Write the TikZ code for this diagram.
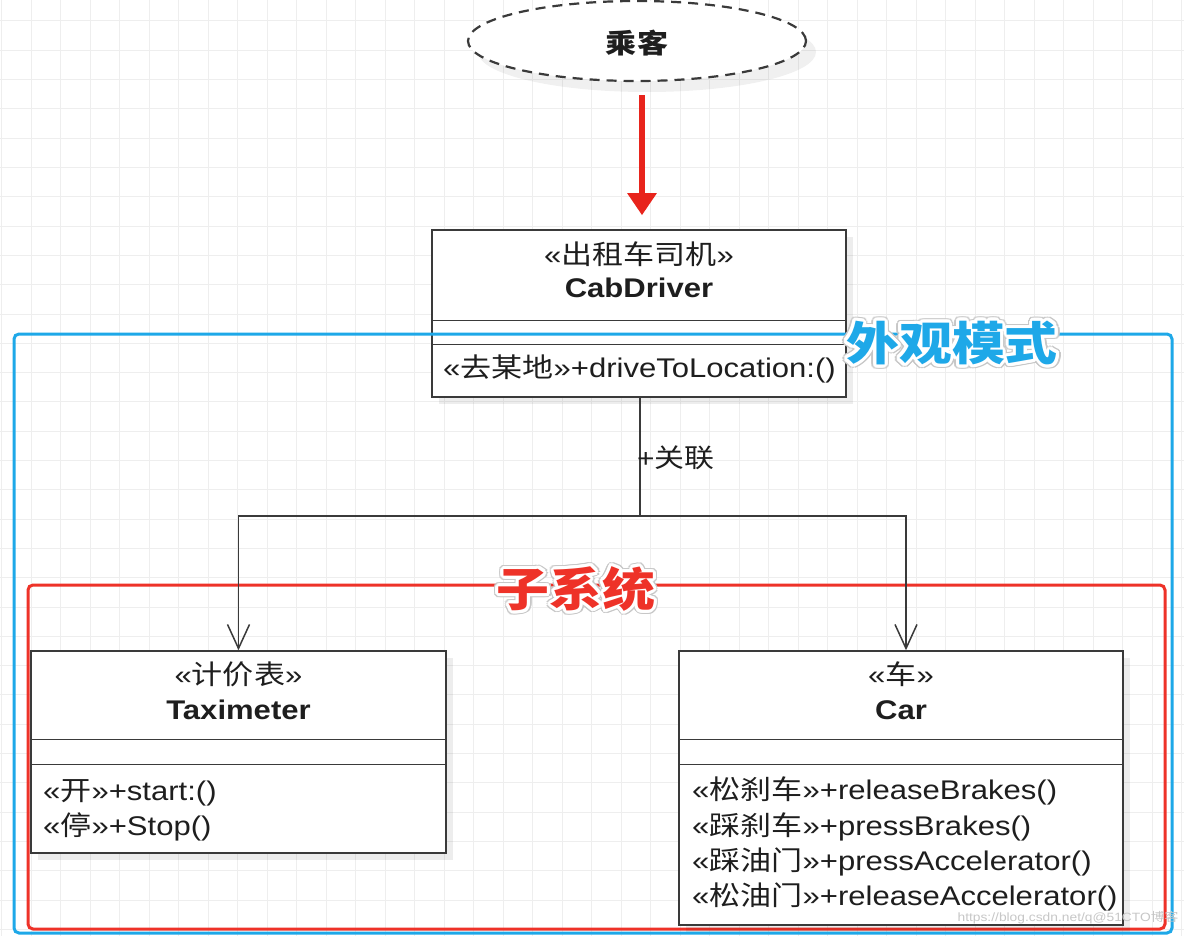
\documentclass[tikz,border=0pt]{standalone}
\usepackage{fontspec}
\setmainfont{Liberation Sans}[FakeStretch=1.15]
\newfontfamily\cjk{Noto Sans CJK SC}[FakeStretch=1.15]
\usetikzlibrary{arrows.meta,shapes.geometric,shadows}
\definecolor{gridc}{HTML}{EEEEEE}
\definecolor{bluec}{HTML}{1EA8E8}
\definecolor{redc}{HTML}{EE3228}
\definecolor{arrowred}{HTML}{E8241C}
\definecolor{linec}{HTML}{3A3A3A}
\definecolor{textc}{HTML}{1E1E1E}
\tikzset{
  classbox/.style={draw=linec, line width=1.5pt, fill=white, inner sep=0pt,
    drop shadow={shadow xshift=7pt, shadow yshift=-7pt, fill=black, opacity=0.07}},
  txt/.style={text=textc, inner sep=0pt, text height=20pt, text depth=6pt,
    font=\fontsize{27}{32}\selectfont},
  divider/.style={draw=linec, line width=1.5pt},
  conn/.style={draw=linec, line width=1.5pt},
  opentip/.style={-{Straight Barb[length=24pt,width=22pt]}},
  frame/.style={line width=3pt, rounded corners=5pt, inner sep=0pt},
  titlefont/.style={inner sep=0pt, font=\fontsize{46}{50}\selectfont\cjk\bfseries}
}
\begin{document}
\begin{tikzpicture}[x=1pt,y=-1pt]
\useasboundingbox (0,0) rectangle (1184,936);
\fill[white] (0,0) rectangle (1184,936);
% background grid
\foreach \k in {-1,...,39} \draw[gridc, line width=1pt] ({31+29.5*\k},0) -- ({31+29.5*\k},936);
\foreach \k in {-1,...,31} \draw[gridc, line width=1pt] (0,{21+29.3*\k}) -- (1184,{21+29.3*\k});

% passenger ellipse
\node[ellipse, minimum width=338pt, minimum height=80pt, fill=black, opacity=0.06] (pshadow) at (647,52) {};
\node[ellipse, draw=linec, dash pattern=on 10pt off 7pt, line width=2.2pt,
      minimum width=338pt, minimum height=80pt, fill=white] (passenger) at (637,41) {};
\node[text=textc, inner sep=0pt, font=\fontsize{27}{30}\selectfont\cjk\bfseries] (ptext) at (637,43) {乘客};

% CabDriver class
\node[classbox, minimum width=414pt, minimum height=167pt] (cab) at (639,313.5) {};
\draw[divider] ([yshift=-91pt]cab.north west) -- ([yshift=-91pt]cab.north east);
\draw[divider] ([yshift=-115pt]cab.north west) -- ([yshift=-115pt]cab.north east);
\node[txt] (cabst) at (639,258) {«{\cjk 出租车司机}»};
\node[txt, font=\fontsize{27}{32}\selectfont\bfseries] (cabname) at (639,291) {CabDriver};
\node[txt, anchor=west] (cabm) at (443,370) {«{\cjk 去某地}»+driveToLocation:()};

% red arrow
\draw[arrowred, line width=6pt, -{Triangle[length=22pt,width=28pt]}, shorten <=13pt, shorten >=14pt]
  ([xshift=5pt]passenger.south) -- ([xshift=3pt]cab.north);

% facade frame (blue)
\node[frame, draw=bluec, minimum width=1158pt, minimum height=599pt] (facade) at (593,633.5) {};
% subsystem frame (red)
\node[frame, draw=redc, minimum width=1137pt, minimum height=344pt] (subsys) at (596.5,757) {};

% Taximeter class
\node[classbox, minimum width=415pt, minimum height=202pt] (tax) at (238.5,752) {};
\draw[divider] ([yshift=-89pt]tax.north west) -- ([yshift=-89pt]tax.north east);
\draw[divider] ([yshift=-114pt]tax.north west) -- ([yshift=-114pt]tax.north east);
\node[txt] (taxst) at (238.5,677) {«{\cjk 计价表}»};
\node[txt, font=\fontsize{27}{32}\selectfont\bfseries] (taxname) at (238.5,712) {Taximeter};
\node[txt, anchor=west] (taxm1) at (43,793) {«{\cjk 开}»+start:()};
\node[txt, anchor=west] (taxm2) at (43,828) {«{\cjk 停}»+Stop()};

% Car class
\node[classbox, minimum width=444pt, minimum height=274pt] (car) at (901,788) {};
\draw[divider] ([yshift=-89pt]car.north west) -- ([yshift=-89pt]car.north east);
\draw[divider] ([yshift=-114pt]car.north west) -- ([yshift=-114pt]car.north east);
\node[txt] (carst) at (901,677) {«{\cjk 车}»};
\node[txt, font=\fontsize{27}{32}\selectfont\bfseries] (carname) at (901,712) {Car};
\node[txt, anchor=west] (carm1) at (692,792) {«{\cjk 松刹车}»+releaseBrakes()};
\node[txt, anchor=west] (carm2) at (692,828) {«{\cjk 踩刹车}»+pressBrakes()};
\node[txt, anchor=west] (carm3) at (692,863) {«{\cjk 踩油门}»+pressAccelerator()};
\node[txt, anchor=west] (carm4) at (692,898) {«{\cjk 松油门}»+releaseAccelerator()};

% association connectors
\coordinate (j) at (640,516);
\draw[conn] (j |- cab.south) -- (j);
\draw[conn, opentip] (j) -| (tax.north);
\draw[conn, opentip] (j) -| ([xshift=5pt]car.north);
\node[txt, anchor=west, font=\fontsize{26}{30}\selectfont] (assoc) at (637,460) {+{\cjk 关联}};

% frame titles with white outline
\coordinate (ftitle) at (952,343);
\coordinate (stitle) at (576,589);
\foreach \a in {0,20,...,340} {
  \node[titlefont, text=black!22] (fh\a) at ([shift={(\a:4.5pt)}]ftitle) {外观模式};
  \node[titlefont, text=black!22] (sh\a) at ([shift={(\a:4.5pt)}]stitle) {子系统};
}
\foreach \a in {0,20,...,340} {
  \node[titlefont, text=white] (fw\a) at ([shift={(\a:3pt)}]ftitle) {外观模式};
  \node[titlefont, text=white] (sw\a) at ([shift={(\a:3pt)}]stitle) {子系统};
}
\node[titlefont, text=bluec] (facadetitle) at (ftitle) {外观模式};
\node[titlefont, text=redc] (subsystitle) at (stitle) {子系统};

% watermark
\node[text=black!22, inner sep=0pt, font=\fontsize{12}{14}\selectfont] (wm) at (1068,918) {https://blog.csdn.net/q@51CTO{\cjk 博客}};
\end{tikzpicture}
\end{document}
